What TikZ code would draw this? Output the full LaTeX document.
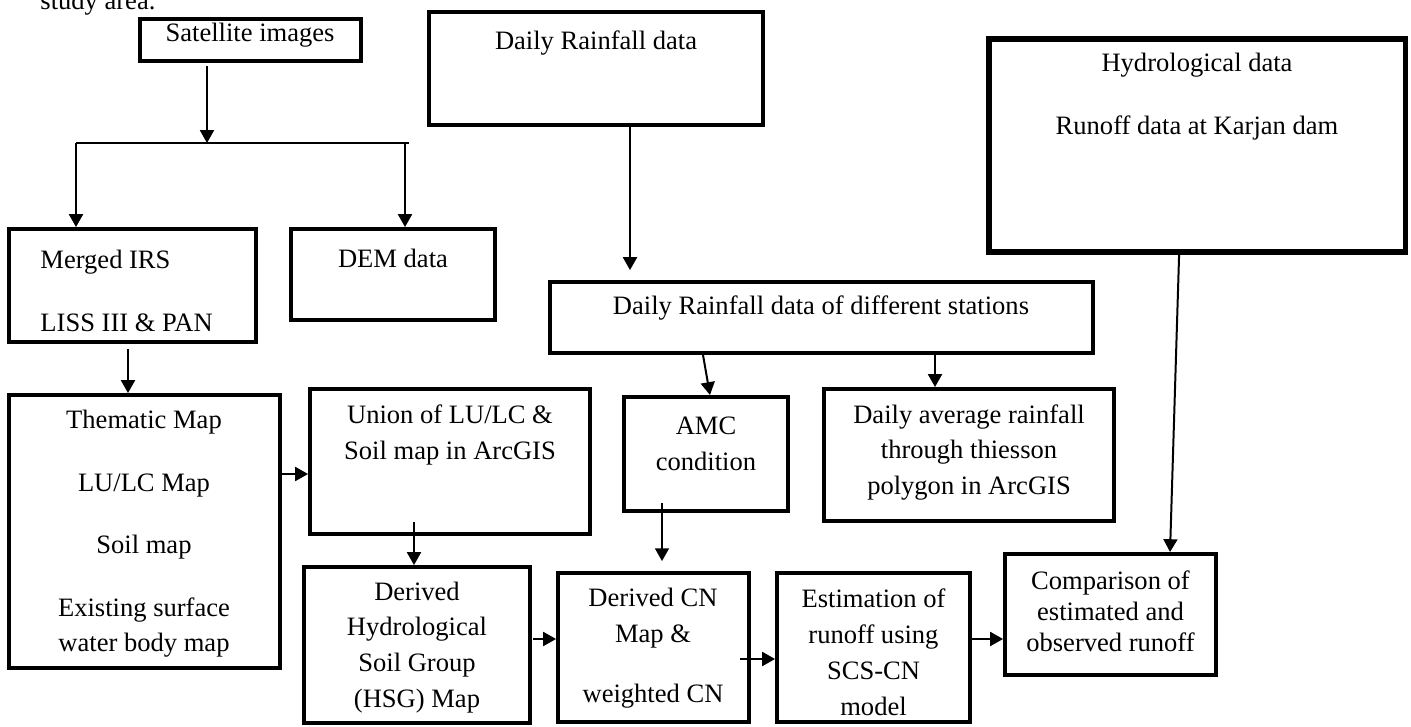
\documentclass[tikz,border=0pt]{standalone}
\usepackage{fontspec}
\setmainfont{Liberation Serif}
\usetikzlibrary{arrows.meta}

\tikzset{
	box/.style = {draw, line width=2pt, inner sep=0pt},
	boxsize/.style 2 args = {minimum width=#1*0.452pt, minimum height=#2*0.452pt},
	txt/.style = {align=center, inner sep=0pt, font=\fontsize{12}{16.2}\selectfont},
	arr/.style = {line width=0.9pt, -{Triangle[length=5.8pt, width=6.3pt]}}
}

\begin{document}
\begin{tikzpicture}[x = 0.452pt, y = -0.452pt]
	\useasboundingbox (0,0) rectangle (1411,727);

	% caption line, cut by the page
	\node[txt, anchor=base west] (cap) at (40,10) {study area.};

	% data sources
	\node[box, boxsize={220.5}{41.5}] (sat) at (250.5,40) {};
	\node[txt] (sattxt) at (250,35) {Satellite images};

	\node[box, boxsize={333.5}{112.5}] (rain) at (596,68.5) {};
	\node[txt] (raintxt) at (596,43) {Daily Rainfall data};

	\node[box, line width=2.5pt, boxsize={416.5}{213.5}] (hydro) at (1197,145.5) {};
	\node[txt] (hydrotxt) at (1197,96.5) {Hydrological data\\[12.3pt]Runoff data at Karjan dam};

	% satellite branch
	\node[box, boxsize={246.5}{112.5}] (irs) at (132.5,285.5) {};
	\node[txt, align=left, anchor=west] (irstxt) at (40,291) {Merged IRS\\[12pt]LISS III \& PAN};

	\node[box, boxsize={203.5}{90.5}] (dem) at (393,274.5) {};
	\node[txt] (demtxt) at (393,258) {DEM data};

	\node[box, boxsize={270.5}{272.5}] (them) at (144.5,531.5) {};
	\node[txt] (themtxt) at (144,534) {Thematic Map\\[12pt]LU/LC Map\\[12pt]Soil map\\[12pt]Existing surface\\water body map};

	\node[box, boxsize={279.5}{144.5}] (union) at (450,461.5) {};
	\node[txt] (uniontxt) at (450,435) {Union of LU/LC \&\\Soil map in ArcGIS};

	\node[box, boxsize={225.5}{155.5}] (hsg) at (417,645) {};
	\node[txt] (hsgtxt) at (417,647.5) {Derived\\Hydrological\\Soil Group\\(HSG) Map};

	% rainfall branch
	\node[box, boxsize={542.5}{70.5}] (stations) at (821.5,317.5) {};
	\node[txt] (stationstxt) at (821,308) {Daily Rainfall data of different stations};

	\node[box, boxsize={163.5}{113.5}] (amc) at (706,454) {};
	\node[txt] (amctxt) at (706,443.5) {AMC\\condition};

	\node[box, boxsize={289.5}{131.5}] (avg) at (969,455) {};
	\node[txt] (avgtxt) at (969,452.5) {Daily average rainfall\\through thiesson\\polygon in ArcGIS};

	% runoff estimation
	\node[box, boxsize={190.5}{148.5}] (cn) at (653.5,647.5) {};
	\node[txt] (cntxt) at (653,648.5) {Derived CN\\Map \&\\[11pt]weighted CN};

	\node[box, boxsize={192.5}{148.5}] (est) at (873.5,647.5) {};
	\node[txt] (esttxt) at (873.5,652.5) {Estimation of\\runoff using\\SCS-CN\\model};

	\node[box, boxsize={210.5}{120.5}] (cmp) at (1110.5,614.5) {};
	\node[txt, font=\fontsize{12}{14}\selectfont] (cmptxt) at (1110.5,611) {Comparison of\\estimated and\\observed runoff};

	% split below the satellite images
	\coordinate (bus) at (207,143);
	\coordinate (busL) at (76,143);
	\coordinate (busR) at (409,143);
	\coordinate (busD) at (405,143);
	\draw[arr, shorten <=1.5pt] (sat.south -| bus) -- (bus);
	\draw[line width=0.7pt] (busL) -- (busR);
	\draw[arr] (busL) -- (busL |- irs.north);
	\draw[arr] (busD) -- (busD |- dem.north);

	% connectors
	\coordinate (irsout) at (128,349);
	\draw[arr] (irsout) -- (irsout |- them.north);
	\coordinate (themout) at (282,474);
	\draw[arr] (themout) -- (themout -| union.west);
	\coordinate (unionout) at (414,522);
	\draw[arr] (unionout) -- (unionout |- hsg.north);

	\coordinate (rainout) at (630,127);
	\draw[arr, shorten >=4.5pt] (rainout) -- (rainout |- stations.north);
	\coordinate (amcin) at (703,355);
	\draw[arr] (amcin) -- ([xshift=1.8pt]amc.north);
	\coordinate (avgin) at (935,355);
	\draw[arr] (avgin) -- (avgin |- avg.north);
	\coordinate (amcout) at (662,503);
	\draw[arr, shorten >=4.5pt] (amcout) -- (amcout |- cn.north);

	\coordinate (hsgout) at (533,639);
	\draw[arr] (hsgout) -- (hsgout -| cn.west);
	\coordinate (cnout) at (740,659);
	\draw[arr] (cnout) -- (cnout -| est.west);
	\coordinate (estout) at (972,639);
	\draw[arr] (estout) -- (estout -| cmp.west);

	\draw[arr] ([xshift=-8.1pt]hydro.south) -- ([xshift=26.9pt]cmp.north);
\end{tikzpicture}
\end{document}
